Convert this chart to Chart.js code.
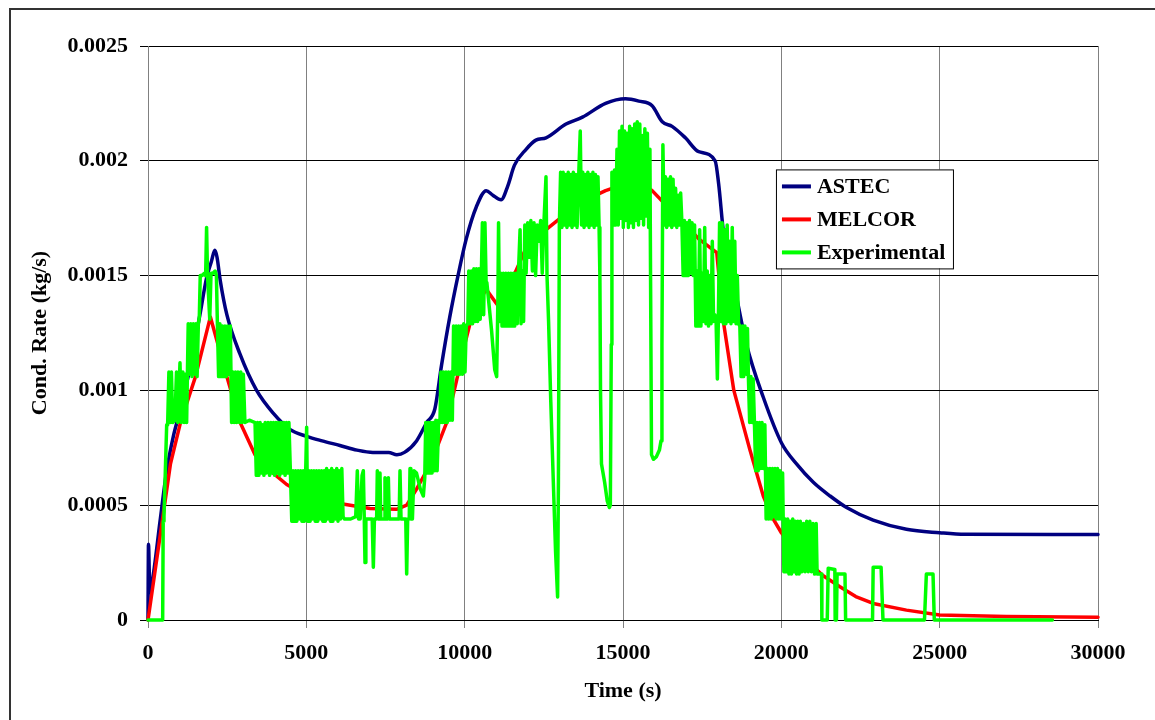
<!DOCTYPE html>
<html>
<head>
<meta charset="utf-8">
<title>Cond. Rate</title>
<script src="https://cdn.jsdelivr.net/npm/chart.js@4.4.1/dist/chart.umd.min.js"></script>
<style>
  html, body { margin: 0; padding: 0; background: #fff; }
  #wrap { position: relative; width: 1155px; height: 720px; overflow: hidden; }
  #frame { position: absolute; left: 9px; top: 8px; width: 1200px; height: 800px;
           border-left: 2px solid #333; border-top: 2px solid #333; }
  #chart { position: absolute; left: 0; top: 0; }
</style>
</head>
<body>
<div id="wrap">
  <div id="frame"></div>
  <canvas id="chart" width="1155" height="720"></canvas>
</div>
<script>
// tick labels
const xTickLabels = ["0", "5000", "10000", "15000", "20000", "25000", "30000"];
const yTickLabels = ["0", "0.0005", "0.001", "0.0015", "0.002", "0.0025"];

// ASTEC
const astecTime = [0, 15, 60, 170, 380, 590, 800, 1010, 1330, 1640,
  1850, 2000, 2110, 2180, 2280, 2490, 2900, 3430, 3960, 4480,
  5010, 5500, 6060, 6600, 7100, 7600, 7860, 8100, 8480, 8800,
  9060, 9270, 9530, 9790, 10050, 10370, 10680, 10890, 11150, 11360,
  11570, 11940, 12250, 12570, 13200, 13720, 14450, 15080, 15500, 15920,
  16240, 16550, 16970, 17390, 17910, 18020, 18180, 18440, 18900, 19430,
  20010, 20480, 21010, 21540, 22060, 22900, 23950, 25000, 25800, 30000];
const astecRate = [0, 0.00033, 0.00012, 0.0002, 0.00043, 0.00065, 0.0008, 0.00091, 0.0011, 0.00133,
  0.00149, 0.00156, 0.00161, 0.00158, 0.00148, 0.00133, 0.00116, 0.001, 0.0009, 0.00083,
  0.0008, 0.00078, 0.00076, 0.00074, 0.00073, 0.00073, 0.00072, 0.00073, 0.00078, 0.00086,
  0.00092, 0.00111, 0.00132, 0.0015, 0.00166, 0.0018, 0.00187, 0.00185, 0.00183, 0.00189,
  0.00198, 0.00205, 0.00209, 0.0021, 0.00216, 0.00219, 0.00225, 0.00227, 0.00226, 0.00224,
  0.00217, 0.00215, 0.0021, 0.00204, 0.002, 0.0019, 0.00168, 0.00151, 0.0012, 0.00097,
  0.00077, 0.00068, 0.0006, 0.00054, 0.00049, 0.000435, 0.000395, 0.00038, 0.000373, 0.000372];

// MELCOR
const melcorTime = [0, 710, 1025, 1500, 1970, 2490, 2910, 3380, 3950, 4380,
  5010, 5960, 7010, 7850, 8170, 8480, 8800, 9120, 9430, 9740,
  10000, 10260, 10680, 11100, 11520, 11940, 12570, 13200, 13830, 14450,
  15080, 15400, 15920, 16340, 16870, 17390, 17960, 18170, 18500, 19010,
  19430, 19700, 20000, 20400, 20800, 21300, 21850, 22350, 22900, 23950,
  25000, 27100, 30000];
const melcorRate = [0, 0.00068, 0.00086, 0.00106, 0.00132, 0.00106, 0.00086, 0.00072, 0.00064, 0.00059,
  0.00054, 0.00051, 0.000486, 0.000482, 0.0005, 0.00057, 0.00065, 0.00075, 0.00086, 0.00104,
  0.0012, 0.00134, 0.00144, 0.00136, 0.00149, 0.00162, 0.0017, 0.00177, 0.00183, 0.00187,
  0.0019, 0.00191, 0.00187, 0.00181, 0.00174, 0.00166, 0.0016, 0.0013, 0.001, 0.00074,
  0.00054, 0.00045, 0.00038, 0.00031, 0.00026, 0.000195, 0.000145, 0.000102, 0.000072, 0.000043,
  0.000022, 0.000015, 0.000012];

// Experimental (one line per stretch)
const expTime = [
  0, 463, 480, 505, 590, 620, 660, 700, 740, 780, 850,
  900, 940, 1010, 1050, 1100, 1140, 1180, 1220,
  1270, 1310, 1350, 1390, 1430, 1470, 1510, 1550, 1590,
  1620, 1650, 1700, 1780, 1820, 1850, 1880, 1950, 1990, 2050, 2120, 2160, 2190,
  2230, 2270, 2310, 2350, 2390, 2430, 2470, 2510, 2560, 2600,
  2640, 2680, 2720, 2760, 2800, 2840, 2890, 2930, 2970, 3010, 3060, 3200, 3380,
  3420, 3460, 3500, 3540, 3580, 3620, 3660, 3700, 3740, 3790, 3840, 3880, 3920, 3960, 4000, 4040, 4080, 4120, 4160, 4200, 4250, 4290, 4330, 4370, 4410, 4450, 4500,
  4540, 4580, 4620, 4660, 4700, 4740, 4780, 4820, 4860, 4900, 4940, 4980, 5010, 5040, 5080, 5120, 5160, 5200, 5240, 5280, 5320, 5360, 5400, 5440, 5480, 5520, 5560, 5600, 5640, 5680, 5720, 5760, 5800, 5840, 5880, 5920, 5960, 6000, 6040, 6080, 6120, 6160,
  6200, 6400, 6560, 6610, 6650, 6700, 6760, 6800, 6830, 6853, 6880, 7080, 7116, 7150, 7220, 7242, 7270, 7310, 7326, 7350, 7460, 7484, 7510, 7570, 7590, 7620, 7930, 7958, 7990, 8140, 8169, 8200, 8250, 8274, 8300, 8350, 8400, 8480, 8600, 8695, 8740,
  8770, 8810, 8850, 8890, 8930, 8970, 9010, 9050, 9090, 9130, 9180, 9220,
  9250, 9290, 9330, 9370, 9410, 9450, 9490, 9530, 9570, 9610,
  9650, 9690, 9730, 9770, 9810, 9850, 9890, 9930, 9970, 10010, 10050, 10100,
  10130, 10170, 10210, 10250, 10290, 10330, 10370, 10410, 10450, 10490, 10530, 10560, 10600, 10640, 10680,
  10700, 10850, 10950, 11010, 11050, 11070, 11100,
  11140, 11180, 11220, 11260, 11300, 11340, 11380, 11420, 11460, 11500, 11540, 11580, 11620, 11660, 11700, 11750, 11780, 11820, 11860,
  11900, 11940, 11990, 12040, 12090, 12140, 12190, 12240, 12290, 12340, 12400, 12450,
  12500, 12568, 12600, 12650, 12720, 12800, 12870, 12935, 12960, 12990,
  13030, 13070, 13110, 13150, 13190, 13230, 13270, 13310, 13350, 13390, 13430, 13470, 13510, 13550, 13600, 13650, 13690, 13730, 13770, 13810, 13850, 13890, 13930, 13970, 14010, 14050, 14090, 14130, 14170, 14210, 14245,
  14270, 14290, 14320, 14420, 14500, 14570, 14600, 14630, 14650,
  14690, 14730, 14770, 14810, 14850, 14890, 14930, 14970, 15010, 15050, 15090, 15130, 15170, 15210, 15250, 15290, 15330, 15370, 15410, 15450, 15490, 15530, 15570, 15610, 15650, 15690, 15730, 15770, 15810, 15850,
  15870, 15900, 15960, 16050, 16150, 16200, 16230, 16260,
  16300, 16340, 16380, 16420, 16460, 16500, 16540, 16580, 16620, 16660, 16700, 16740, 16780, 16820, 16860,
  16900, 16940, 16980, 17020, 17060, 17100, 17140, 17180, 17220, 17260,
  17300, 17340, 17380, 17420, 17460, 17500, 17540, 17580, 17620, 17660, 17700, 17740, 17780, 17820, 17860, 17900,
  17940, 17980, 18010, 18050, 18090, 18130, 18170, 18210, 18250, 18290, 18330, 18370, 18410, 18450, 18490, 18530, 18570, 18610, 18650, 18690,
  18730, 18770, 18810, 18850, 18890, 18930, 18960, 19000, 19040, 19080, 19110, 19150, 19190, 19230, 19270, 19310, 19350, 19390, 19430, 19480,
  19520, 19560, 19600, 19640, 19680, 19720, 19760, 19800, 19840, 19880, 19920, 19960, 20000, 20040,
  20080, 20120, 20160, 20200, 20240, 20280, 20320, 20360, 20400, 20440, 20480, 20520, 20560, 20600, 20650, 20700, 20750, 20800, 20850, 20900, 20950, 21000, 21050, 21100, 21130,
  21270, 21280, 21450, 21480, 21690, 21700, 21740, 21760, 22010, 22030, 22880, 22900, 23150, 23210, 24520, 24580, 24790, 24830, 28560
];
const expRate = [
  0, 0, 0.00043, 0.00045, 0.00085, 0.00085, 0.00108, 0.00086, 0.00108, 0.00086, 0.00087,
  0.00108, 0.00086, 0.00112, 0.00086, 0.00108, 0.00086, 0.00107, 0.00086,
  0.00129, 0.00107, 0.00129, 0.00106, 0.00129, 0.00107, 0.00129, 0.00106, 0.00129,
  0.00132, 0.0015, 0.0015, 0.00151, 0.0015, 0.00171, 0.0015, 0.00131, 0.00151, 0.00151, 0.00152, 0.0015, 0.0013,
  0.00106, 0.00129, 0.00106, 0.00128, 0.00106, 0.00128, 0.00106, 0.00128, 0.00107, 0.00128,
  0.00086, 0.00108, 0.00086, 0.00108, 0.00086, 0.00108, 0.00086, 0.00108, 0.00086, 0.00107, 0.00086, 0.00087, 0.00086,
  0.00063, 0.00086, 0.00063, 0.00086, 0.00064, 0.00085, 0.00063, 0.00086, 0.00064, 0.00086, 0.00063, 0.00086, 0.00064, 0.00086, 0.00063, 0.00086, 0.00064, 0.00086, 0.00063, 0.00086, 0.00064, 0.00086, 0.00063, 0.00086, 0.00064, 0.00086, 0.00063,
  0.00043, 0.00065, 0.00043, 0.00065, 0.00043, 0.00065, 0.00044, 0.00065, 0.00043, 0.00065, 0.00043, 0.00065, 0.00084, 0.00043, 0.00065, 0.00043, 0.00065, 0.00044, 0.00065, 0.00043, 0.00065, 0.00043, 0.00065, 0.00044, 0.00065, 0.00043, 0.00065, 0.00043, 0.00066, 0.00044, 0.00065, 0.00043, 0.00066, 0.00043, 0.00065, 0.00044, 0.00066, 0.00043, 0.00065, 0.00044, 0.00066, 0.00045,
  0.00044, 0.00044, 0.00045, 0.00065, 0.00044, 0.00044, 0.00063, 0.00065, 0.00044, 0.00025, 0.00044, 0.00044, 0.00023, 0.00044, 0.00044, 0.00065, 0.00044, 0.00044, 0.00064, 0.00044, 0.00044, 0.00062, 0.00044, 0.00044, 0.00062, 0.00044, 0.00044, 0.00065, 0.00044, 0.00044, 0.0002, 0.00044, 0.00044, 0.00066, 0.00044, 0.00044, 0.00065, 0.00064, 0.00057, 0.00054, 0.00062,
  0.00086, 0.00064, 0.00086, 0.00064, 0.00086, 0.00064, 0.00086, 0.00065, 0.00087, 0.00065, 0.00087, 0.00086,
  0.00108, 0.00086, 0.00108, 0.00086, 0.00108, 0.00086, 0.00108, 0.00087, 0.00108, 0.00087,
  0.00128, 0.00107, 0.00128, 0.00107, 0.00128, 0.00107, 0.00128, 0.00107, 0.00129, 0.00108, 0.00128, 0.00129,
  0.00152, 0.00129, 0.00152, 0.00129, 0.00153, 0.0013, 0.00153, 0.0013, 0.00153, 0.00131, 0.00153, 0.00173, 0.00133, 0.00173, 0.00145,
  0.00147, 0.00126, 0.00109, 0.00106, 0.0014, 0.00173, 0.0013,
  0.00151, 0.00128, 0.00151, 0.00128, 0.00151, 0.00128, 0.00151, 0.00128, 0.00151, 0.00128, 0.00151, 0.00128, 0.00151, 0.00129, 0.00152, 0.0017, 0.00129, 0.00152, 0.0013,
  0.00172, 0.00151, 0.00173, 0.00158, 0.00174, 0.00152, 0.00173, 0.0015, 0.00172, 0.00165, 0.00174, 0.00151,
  0.00172, 0.00193, 0.0015, 0.0013, 0.00095, 0.0006, 0.0003, 0.0001, 0.0006, 0.00172,
  0.00195, 0.00171, 0.00195, 0.00172, 0.00194, 0.00171, 0.00195, 0.00172, 0.00194, 0.00171, 0.00195, 0.00172, 0.00194, 0.00171, 0.00193, 0.00213, 0.00172, 0.00195, 0.00171, 0.00194, 0.00172, 0.00195, 0.00171, 0.00194, 0.00172, 0.00195, 0.00171, 0.00194, 0.00172, 0.00193, 0.00171,
  0.0015, 0.001, 0.00068, 0.0006, 0.00052, 0.00049, 0.0005, 0.0012, 0.00195,
  0.00172, 0.00196, 0.00172, 0.00205, 0.00172, 0.00213, 0.00175, 0.00215, 0.00171, 0.00213, 0.00174, 0.00212, 0.00171, 0.00215, 0.00173, 0.00214, 0.00171, 0.00216, 0.00174, 0.00217, 0.00172, 0.00216, 0.00175, 0.00211, 0.00172, 0.00214, 0.00176, 0.00212, 0.00171, 0.00205,
  0.0015, 0.00072, 0.0007, 0.00071, 0.00074, 0.00078, 0.0012, 0.00207,
  0.00172, 0.00193, 0.00171, 0.00192, 0.00172, 0.00193, 0.00171, 0.00192, 0.00172, 0.00188, 0.00171, 0.00185, 0.00172, 0.00186, 0.00173,
  0.0015, 0.00174, 0.0015, 0.00173, 0.0015, 0.00174, 0.00151, 0.00173, 0.0015, 0.00172,
  0.00128, 0.00152, 0.00128, 0.0017, 0.00128, 0.00151, 0.0013, 0.00171, 0.00129, 0.00152, 0.00128, 0.0015, 0.00129, 0.00165, 0.0013, 0.00133,
  0.0013, 0.00105, 0.0013, 0.00173, 0.0013, 0.00173, 0.00129, 0.0017, 0.00129, 0.00172, 0.0013, 0.00165, 0.00129, 0.00171, 0.0013, 0.00165, 0.00129, 0.0015, 0.00129, 0.00128,
  0.00106, 0.00128, 0.00106, 0.00128, 0.00107, 0.00127, 0.00106, 0.00086, 0.00106, 0.00086, 0.00105, 0.00086, 0.00065, 0.00086, 0.00065, 0.00086, 0.00066, 0.00086, 0.00066, 0.00085,
  0.00044, 0.00066, 0.00044, 0.00066, 0.00044, 0.00066, 0.00045, 0.00066, 0.00044, 0.00066, 0.00044, 0.00065, 0.00044, 0.00064,
  0.00021, 0.00044, 0.00021, 0.00044, 0.0002, 0.00043, 0.0002, 0.00044, 0.00021, 0.00043, 0.0002, 0.00043, 0.0002, 0.00043, 0.00021, 0.00042, 0.00021, 0.00043, 0.00021, 0.00043, 0.00021, 0.00042, 0.0002, 0.00042, 0.0002,
  0.0002, 0, 0, 0.000225, 0.00022, 0, 0, 0.0002, 0.0002, 0, 0, 0.00023, 0.00023, 0, 0, 0.0002, 0.0002, 0, 0
];

const toPoints = (xs, ys) => xs.map((x, i) => ({ x: x, y: ys[i] }));

const serif = '"Liberation Serif", "Times New Roman", serif';
const boldFont = { family: serif, size: 22, weight: "bold" };

// legend drawn inside the plot, like the original
const insideLegend = {
  id: "insideLegend",
  afterDraw(chart) {
    const { ctx, chartArea } = chart;
    const x = chartArea.left + (chartArea.right - chartArea.left) * 0.661;
    const y = chartArea.top + (chartArea.bottom - chartArea.top) * 0.215;
    const w = 177, h = 99;
    ctx.save();
    ctx.fillStyle = "#fff";
    ctx.fillRect(x, y, w, h);
    ctx.strokeStyle = "#000";
    ctx.lineWidth = 1;
    ctx.strokeRect(x + 0.5, y + 0.5, w, h);
    ctx.font = "bold 22px " + serif;
    ctx.textBaseline = "middle";
    chart.data.datasets.forEach((ds, i) => {
      const ry = y + 17 + i * 33;
      ctx.strokeStyle = ds.borderColor;
      ctx.lineWidth = 4;
      ctx.beginPath();
      ctx.moveTo(x + 6, ry);
      ctx.lineTo(x + 35, ry);
      ctx.stroke();
      ctx.fillStyle = "#000";
      ctx.fillText(ds.label, x + 41, ry + 1);
    });
    ctx.restore();
  }
};

new Chart(document.getElementById("chart"), {
  type: "line",
  data: {
    datasets: [
      {
        label: "ASTEC",
        data: toPoints(astecTime, astecRate),
        borderColor: "#000080",
        borderWidth: 3.5,
        cubicInterpolationMode: "monotone",
        order: 3,
      },
      {
        label: "MELCOR",
        data: toPoints(melcorTime, melcorRate),
        borderColor: "#ff0000",
        borderWidth: 3.5,
        tension: 0,
        order: 2,
      },
      {
        label: "Experimental",
        data: toPoints(expTime, expRate),
        borderColor: "#00ff00",
        borderWidth: 3.5,
        tension: 0,
        order: 1,
      },
    ],
  },
  options: {
    responsive: false,
    animation: false,
    devicePixelRatio: 1,
    layout: { padding: { top: 46, right: 57, bottom: 0, left: 0 } },
    elements: {
      point: { radius: 0, hoverRadius: 0 },
      line: { fill: false, borderJoinStyle: "round", borderCapStyle: "round" },
    },
    datasets: { line: { clip: 4 } },
    plugins: { legend: { display: false }, tooltip: { enabled: false } },
    scales: {
      x: {
        type: "linear",
        min: 0,
        max: 30000,
        ticks: {
          stepSize: 5000,
          maxRotation: 0,
          autoSkip: false,
          padding: 12,
          color: "#000",
          font: boldFont,
          callback: (v, i) => xTickLabels[i],
        },
        grid: { color: "#808080", lineWidth: 1, tickLength: 8, tickColor: "#808080" },
        border: { color: "#000", width: 1 },
        title: {
          display: true,
          text: "Time (s)",
          color: "#000",
          font: boldFont,
          padding: { top: 0, bottom: 15 },
        },
        afterFit: (scale) => { scale.height = 100; },
      },
      y: {
        min: 0,
        max: 0.0025,
        ticks: {
          stepSize: 0.0005,
          padding: 12,
          color: "#000",
          font: boldFont,
          callback: (v, i) => yTickLabels[i],
        },
        grid: { color: "#000", lineWidth: 1, tickLength: 8, tickColor: "#000" },
        border: { color: "#808080", width: 1 },
        title: {
          display: true,
          text: "Cond. Rate (kg/s)",
          color: "#000",
          font: boldFont,
          padding: { top: 27, bottom: 0 },
        },
        afterFit: (scale) => { scale.width = 148; },
      },
    },
  },
  plugins: [insideLegend],
});
</script>
</body>
</html>
